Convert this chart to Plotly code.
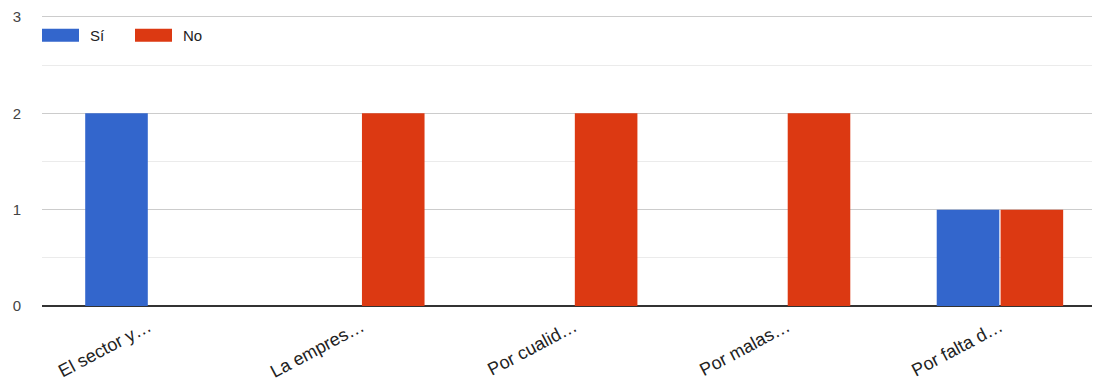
import plotly.graph_objects as go

categories = ["El sector y…", "La empres…", "Por cualid…", "Por malas…", "Por falta d…"]
si_values = [2, 0, 0, 0, 1]
no_values = [0, 2, 2, 2, 1]
series_names = ["Sí", "No"]
colors = ["#3366CC", "#DC3912"]
y_ticks = [0, 1, 2, 3]

fig = go.Figure()
fig.add_trace(go.Bar(x=categories, y=si_values, name=series_names[0], marker_color=colors[0], marker_line_width=0))
fig.add_trace(go.Bar(x=categories, y=no_values, name=series_names[1], marker_color=colors[1], marker_line_width=0))

# layout geometry (pixels)
W = 1058.0      # plot width
H = 298.0       # plot height
PX_PER_UNIT = 97.0
BOTTOM = 306.0  # page y of the baseline
y_top = 3 + 7 / PX_PER_UNIT

# custom legend (wide swatches like Google Charts)
legend_items = [(0.0, series_names[0], colors[0]), (93 / W, series_names[1], colors[1])]
for x0, name, col in legend_items:
    fig.add_shape(type="rect", xref="paper", yref="paper",
                  x0=x0, x1=x0 + 37 / W, y0=(BOTTOM - 40) / H, y1=(BOTTOM - 27) / H,
                  fillcolor=col, line_width=0)
    fig.add_annotation(xref="paper", yref="paper", x=x0 + 46 / W, y=(BOTTOM - 33.5) / H,
                       text=name, showarrow=False, xanchor="left", yanchor="middle",
                       font=dict(family="Liberation Sans, Arial", size=15, color="#222222"))

fig.update_layout(
    width=1092, height=375,
    margin=dict(l=34, r=0, t=0, b=77),
    paper_bgcolor="white", plot_bgcolor="white",
    barmode="group", bargap=0.4, bargroupgap=0.02,
    showlegend=False,
    font=dict(family="Liberation Sans, Arial", size=15, color="#222222"),
    xaxis=dict(range=[-0.5, 4.47], tickangle=-28, showgrid=False, showline=False,
               ticks="", ticklabelstandoff=6, ticklabeloverflow="allow",
               tickfont=dict(size=18, color="#222222")),
    yaxis=dict(range=[0, y_top], tickvals=y_ticks, showgrid=True, gridcolor="#cccccc",
               gridwidth=1, zeroline=True, zerolinecolor="#333333", zerolinewidth=1.5,
               showline=False, ticks="", ticklabelstandoff=20, ticklabeloverflow="allow",
               tickfont=dict(size=15, color="#444444"),
               minor=dict(dtick=0.5, showgrid=True, gridcolor="#ebebeb", gridwidth=1)),
)

fig.write_html("out.html")
